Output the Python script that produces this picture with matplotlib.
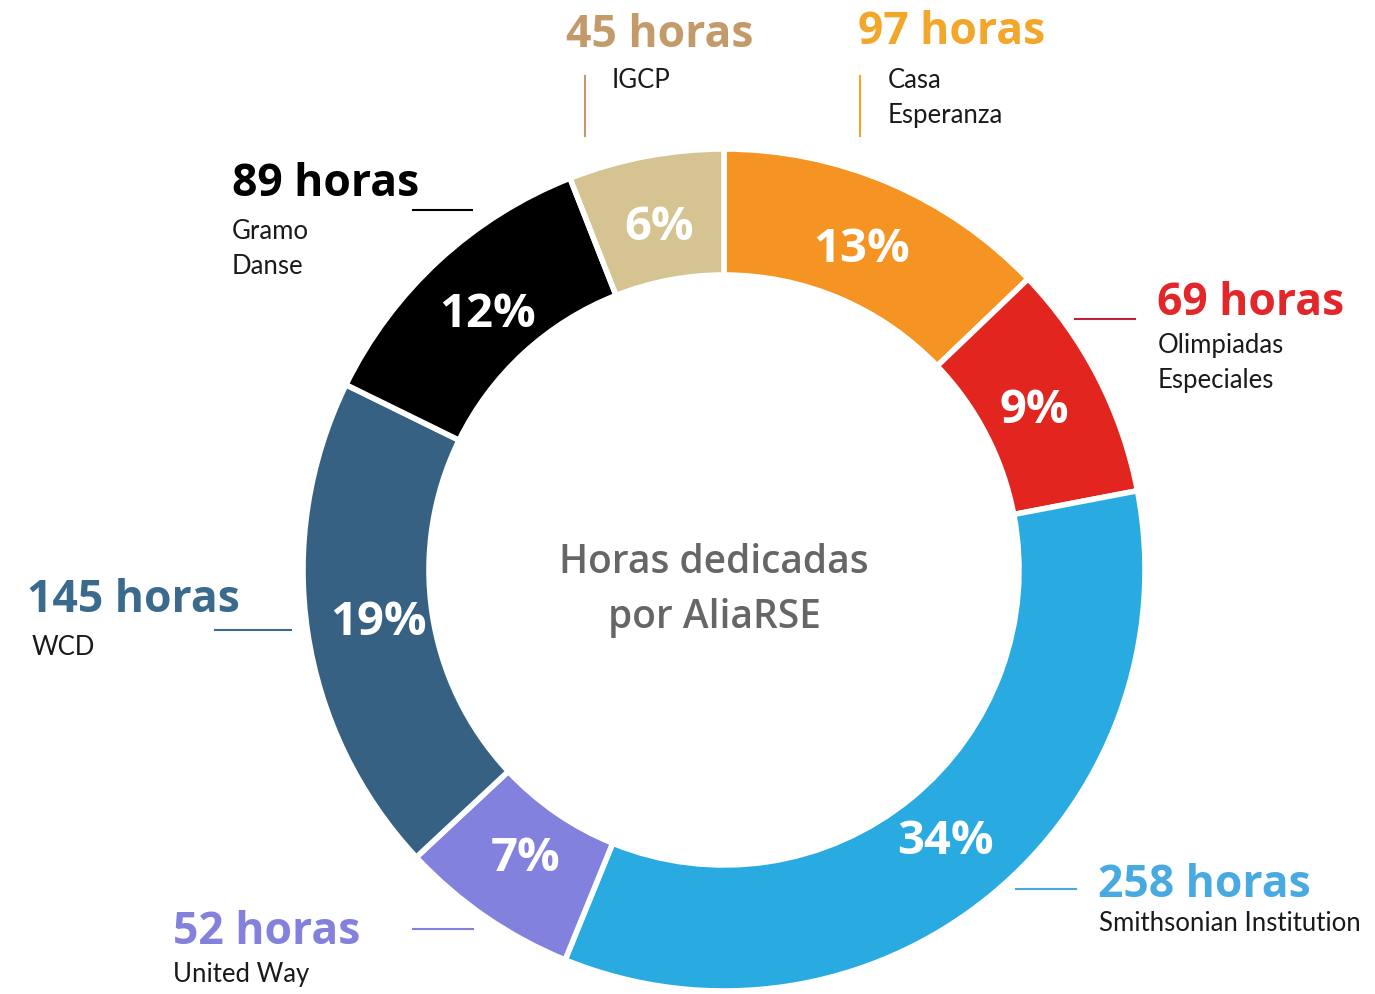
import matplotlib.pyplot as plt

# data, clockwise from the top
orgs = [["Casa", "Esperanza"], ["Olimpiadas", "Especiales"], ["Smithsonian Institution"],
        ["United Way"], ["WCD"], ["Gramo", "Danse"], ["IGCP"]]
hours = [97, 69, 258, 52, 145, 89, 45]
seg_colors = ["#F59422", "#E2251F", "#29ABE2", "#8282DE", "#366182", "#000000", "#D5C491"]
txt_colors = ["#F2A72B", "#E3262A", "#48AAE0", "#8481DC", "#3A6A8C", "#000000", "#C39A69"]
line_colors = ["#F2A72B", "#BE1F3C", "#48AAE0", "#8481DC", "#3A6A8C", "#000000", "#C39A69"]

W, H = 1375, 995
num_font = "Open Sans"
lbl_font = "Lato"


def Y(y):
    return H - y


fig = plt.figure(figsize=(W / 100, H / 100), dpi=100)
ax = fig.add_axes([0, 0, 1, 1])

wedges, _, autotexts = ax.pie(
    hours, colors=seg_colors, startangle=90, counterclock=False,
    center=(724, Y(571)), radius=421, frame=True,
    wedgeprops=dict(width=126, edgecolor="white", linewidth=4),
    autopct=lambda p: f"{p:.0f}%", pctdistance=0.83,
    textprops=dict(color="white", fontsize=34, fontweight="bold", family=num_font),
)
ax.set_xlim(0, W)
ax.set_ylim(0, H)
ax.set_aspect("equal")
ax.axis("off")

ax.text(714, Y(573), "Horas dedicadas", ha="center", va="baseline",
        fontsize=28, color="#666666", family=num_font, fontweight="semibold")
ax.text(714, Y(628), "por AliaRSE", ha="center", va="baseline",
        fontsize=28, color="#666666", family=num_font, fontweight="semibold")

# label placement: x of number, baseline of number, x and baseline of name, connector line
layout = [
    (858, 44, 888, 88, ((860, 860), (77, 137))),
    (1157, 315, 1158, 353, ((1075, 1135), (320, 320))),
    (1098, 897, 1099, 931, ((1016, 1076), (890, 890))),
    (173, 944, 173, 982, ((413, 473), (930, 930))),
    (27, 612, 32, 655, ((215, 291), (631, 631))),
    (232, 196, 232, 239, ((413, 472), (211, 211))),
    (566, 47, 612, 88, ((585, 585), (77, 137))),
]
for i, (x, yb, nx, yl, (lx, ly)) in enumerate(layout):
    ax.text(x, Y(yb), f"{hours[i]} horas", ha="left", va="baseline",
            fontsize=32, fontweight="bold", color=txt_colors[i], family=num_font)
    for k, line in enumerate(orgs[i]):
        ax.text(nx, Y(yl + 35 * k), line, ha="left", va="baseline", fontsize=18.5,
                color="#1a1a1a", family=lbl_font)
    ax.plot(lx, [Y(v) for v in ly], color=line_colors[i], lw=1.5)

fig.savefig("out.png", dpi=100)
